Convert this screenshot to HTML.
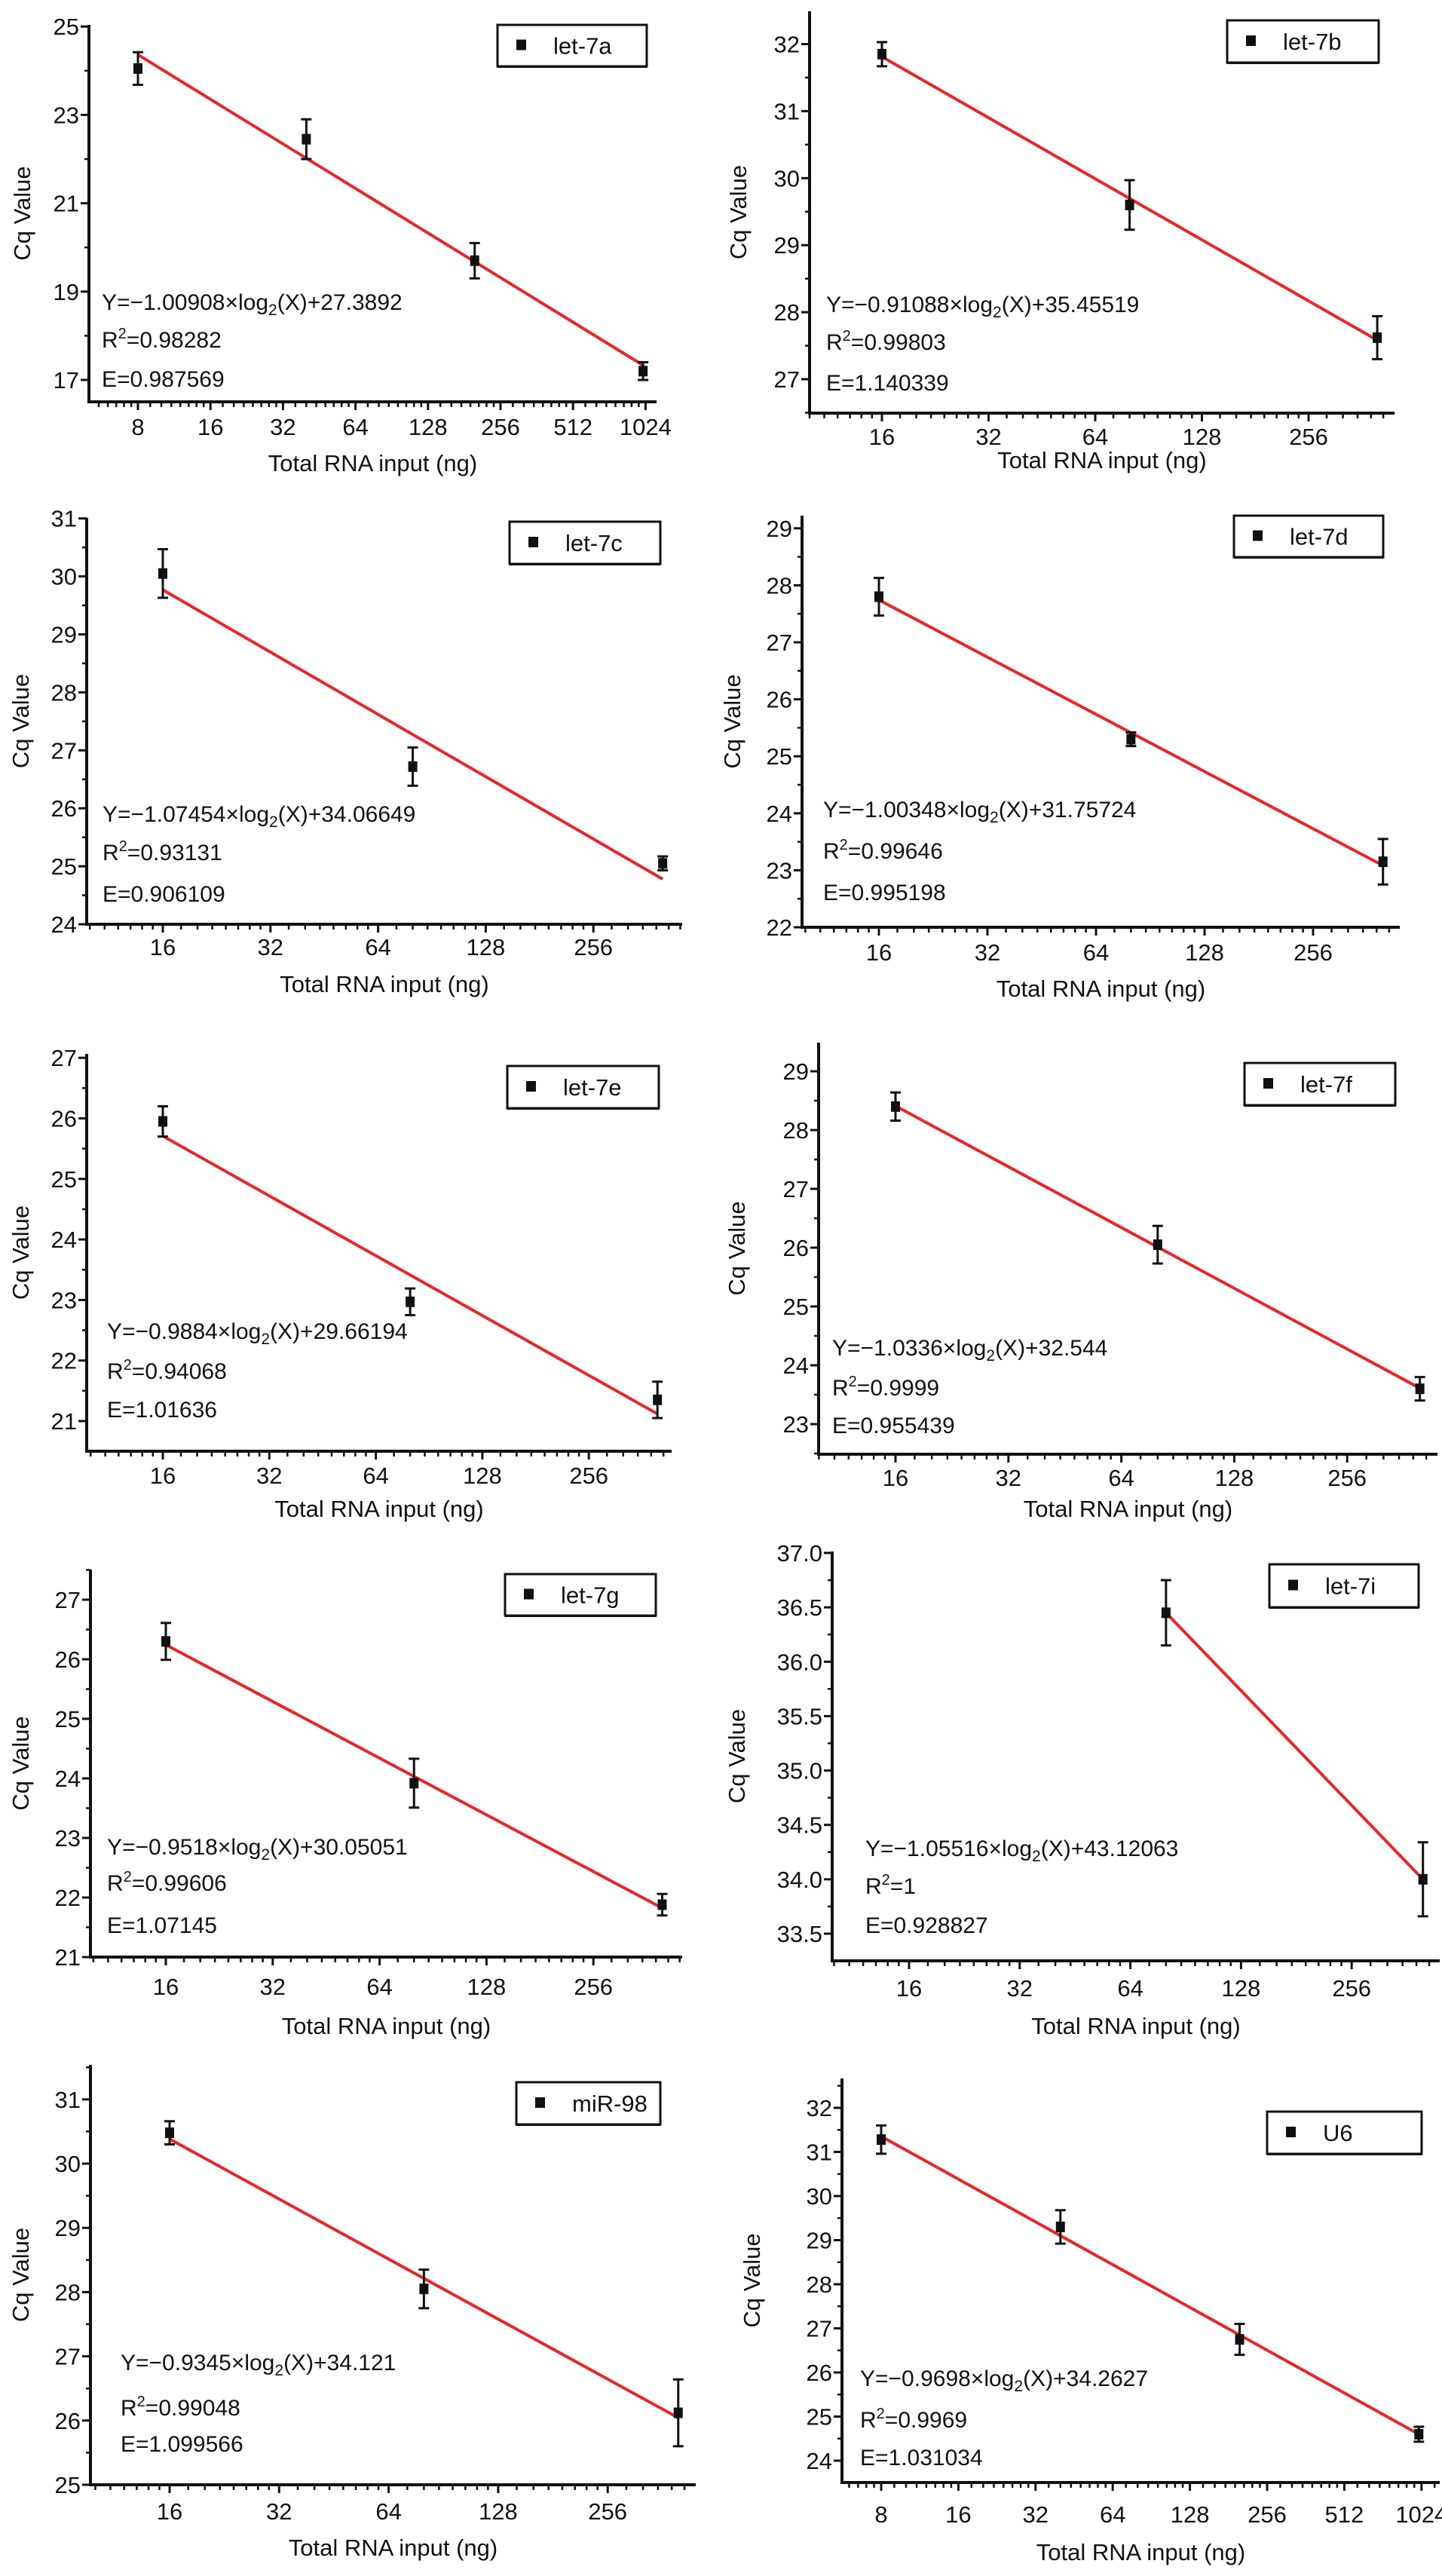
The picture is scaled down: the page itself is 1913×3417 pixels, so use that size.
<!DOCTYPE html>
<html><head><meta charset="utf-8"><style>
html,body{margin:0;padding:0;background:#fff;}
svg{display:block;font-family:"Liberation Sans",Arial,sans-serif;}
</style></head><body>
<svg id="fig" width="1913" height="3417" viewBox="0 0 1913 3417" xmlns="http://www.w3.org/2000/svg"></svg>
<script>
// ---- data ----
const names = ["let-7a","let-7b","let-7c","let-7d","let-7e","let-7f","let-7g","let-7i","miR-98","U6"];
const let7aX=[8,40,200,1000], let7aY=[24.05,22.45,19.7,17.2], let7aE=[0.37,0.45,0.4,0.2];
const let7bX=[16,80,400], let7bY=[31.85,29.6,27.62], let7bE=[0.18,0.37,0.32];
const let7cX=[16,80,400], let7cY=[30.05,26.72,25.05], let7cE=[0.42,0.33,0.12];
const let7dX=[16,80,400], let7dY=[27.8,25.3,23.15], let7dE=[0.33,0.12,0.4];
const let7eX=[16,80,400], let7eY=[25.95,22.97,21.35], let7eE=[0.25,0.22,0.3];
const let7fX=[16,80,400], let7fY=[28.4,26.05,23.6], let7fE=[0.24,0.32,0.2];
const let7gX=[16,80,400], let7gY=[26.3,23.92,21.88], let7gE=[0.31,0.41,0.18];
const let7iX=[80,400], let7iY=[36.45,34.0], let7iE=[0.3,0.34];
const mir98X=[16,80,400], mir98Y=[30.48,28.05,26.12], mir98E=[0.18,0.3,0.52];
const u6X=[8,40,200,1000], u6Y=[31.28,29.3,26.75,24.6], u6E=[0.32,0.38,0.35,0.17];
const slopes=[-1.00908,-0.91088,-1.07454,-1.00348,-0.9884,-1.0336,-0.9518,-1.05516,-0.9345,-0.9698];
const intercepts=[27.3892,35.45519,34.06649,31.75724,29.66194,32.544,30.05051,43.12063,34.121,34.2627];
const slopeText=["1.00908","0.91088","1.07454","1.00348","0.9884","1.0336","0.9518","1.05516","0.9345","0.9698"];
const interText=["27.3892","35.45519","34.06649","31.75724","29.66194","32.544","30.05051","43.12063","34.121","34.2627"];
const r2Text=["0.98282","0.99803","0.93131","0.99646","0.94068","0.9999","0.99606","1","0.99048","0.9969"];
const effText=["0.987569","1.140339","0.906109","0.995198","1.01636","0.955439","1.07145","0.928827","1.099566","1.031034"];
const yTicksA=[17,19,21,23,25], yTicksB=[27,28,29,30,31,32], yTicksC=[24,25,26,27,28,29,30,31];
const yTicksD=[22,23,24,25,26,27,28,29], yTicksE=[21,22,23,24,25,26,27], yTicksF=[23,24,25,26,27,28,29];
const yTicksG=[21,22,23,24,25,26,27], yTicksI=[33.5,34.0,34.5,35.0,35.5,36.0,36.5,37.0];
const yTicksM=[25,26,27,28,29,30,31], yTicksU=[24,25,26,27,28,29,30,31,32];
const xTicksWide=[8,16,32,64,128,256,512,1024], xTicksNarrow=[16,32,64,128,256];
const xs=[let7aX,let7bX,let7cX,let7dX,let7eX,let7fX,let7gX,let7iX,mir98X,u6X];
const ys=[let7aY,let7bY,let7cY,let7dY,let7eY,let7fY,let7gY,let7iY,mir98Y,u6Y];
const es=[let7aE,let7bE,let7cE,let7dE,let7eE,let7fE,let7gE,let7iE,mir98E,u6E];
const yTickSets=[yTicksA,yTicksB,yTicksC,yTicksD,yTicksE,yTicksF,yTicksG,yTicksI,yTicksM,yTicksU];
const xTickSets=[xTicksWide,xTicksNarrow,xTicksNarrow,xTicksNarrow,xTicksNarrow,xTicksNarrow,xTicksNarrow,xTicksNarrow,xTicksNarrow,xTicksWide];
const yMinor=[1,0.5,0.5,0.5,0.5,0.5,0.5,0.25,0.5,0.5];
const yDec=[0,0,0,0,0,0,0,1,0,0];

// ---- layout (pixels) ----
const L=[
 {ax:118,ay:533,top:33,yv:17,yp:504,yu:58.6,xv:8,xp:183,xd:96.2,end:871,lg:[660,33,198,55],eq:[135,411,461,513],tk:577,tt:625,yl:30},
 {ax:1074,ay:548,top:15,yv:27,yp:503,yu:88.9,xv:16,xp:1170,xd:141.5,end:1850,lg:[1628,27,201,56],eq:[1096,414,464,518],tk:590,tt:621,yl:980},
 {ax:115,ay:1226,top:687,yv:24,yp:1226,yu:76.9,xv:16,xp:216,xd:142.8,end:905,lg:[676,692,200,56],eq:[136,1090,1141,1196],tk:1267,tt:1316,yl:28},
 {ax:1064,ay:1230,top:684,yv:22,yp:1230,yu:75.6,xv:16,xp:1166,xd:144,end:1857,lg:[1637,684,198,55],eq:[1092,1084,1139,1194],tk:1274,tt:1322,yl:972},
 {ax:115,ay:1925,top:1398,yv:21,yp:1885,yu:80.3,xv:16,xp:216,xd:141.3,end:891,lg:[673,1414,201,56],eq:[142,1776,1829,1880],tk:1968,tt:2012,yl:28},
 {ax:1086,ay:1929,top:1383,yv:23,yp:1889,yu:78,xv:16,xp:1188,xd:149.8,end:1907,lg:[1651,1410,200,56],eq:[1104,1798,1851,1901],tk:1971,tt:2012,yl:978},
 {ax:120,ay:2596,top:2082,yv:21,yp:2596,yu:79,xv:16,xp:220,xd:141.8,end:905,lg:[670,2088,200,55],eq:[142,2460,2508,2564],tk:2646,tt:2698,yl:28},
 {ax:1104,ay:2601,top:2058,yv:33.5,yp:2565,yu:144.3,xv:16,xp:1206,xd:146.8,end:1910,lg:[1684,2075,198,57],eq:[1148,2462,2512,2564],tk:2648,tt:2698,yl:978},
 {ax:120,ay:3296,top:2739,yv:25,yp:3296,yu:85.2,xv:16,xp:225,xd:145.3,end:923,lg:[685,2762,191,56],eq:[160,3144,3204,3252],tk:3342,tt:3390,yl:28},
 {ax:1117,ay:3293,top:2757,yv:24,yp:3264,yu:58.5,xv:8,xp:1169,xd:102.4,end:1910,lg:[1681,2801,205,56],eq:[1141,3165,3220,3270],tk:3346,tt:3396,yl:998}
];

const NS="http://www.w3.org/2000/svg";
const svg=document.getElementById('fig');
function mk(tag,attrs,parent,txt){const e=document.createElementNS(NS,tag);for(const k in attrs)e.setAttribute(k,attrs[k]);if(txt!==undefined)e.textContent=txt;parent.appendChild(e);return e;}

for(let i=0;i<10;i++){
  const c=L[i];
  const X=v=>c.xp+Math.log2(v/c.xv)*c.xd;
  const Y=v=>c.yp-(v-c.yv)*c.yu;
  const g=mk('g',{},svg);
  
  
  const yBot=c.yv-(c.ay-c.yp)/c.yu, yTop=c.yv+(c.yp-c.top)/c.yu;
  for(let v=Math.ceil(yBot/yMinor[i])*yMinor[i]; v<=yTop+1e-9; v+=yMinor[i]){
    const t=mk('line',{x1:c.ax-6,x2:c.ax,y1:Y(v),y2:Y(v),stroke:'#111','stroke-width':2.5},g);
    
    
  }
  yTickSets[i].forEach(v=>{
    const t=mk('line',{x1:c.ax-11,x2:c.ax,y1:Y(v),y2:Y(v),stroke:'#111','stroke-width':3},g);
    
    
    const lb=mk('text',{x:c.ax-13,y:Y(v)+11,'text-anchor':'end','font-size':31,fill:'#111'},g,v.toFixed(yDec[i]));
    
    
  });
  const xLeft=c.xv*Math.pow(2,(c.ax-c.xp)/c.xd), xRight=c.xv*Math.pow(2,(c.end-c.xp)/c.xd);
  let base=c.xv; while(base>xLeft) base/=2;
  for(;base<xRight;base*=2){
    for(let k=1;k<8;k++){const v=base+k*base/8; if(v<=xLeft||v>=xRight)continue;
      const t=mk('line',{x1:X(v),x2:X(v),y1:c.ay,y2:c.ay+7,stroke:'#111','stroke-width':2.5},g);
      
      }
  }
  xTickSets[i].forEach(v=>{
    const t=mk('line',{x1:X(v),x2:X(v),y1:c.ay,y2:c.ay+11,stroke:'#111','stroke-width':3},g);
    
    
    const lb=mk('text',{x:X(v),y:c.tk,'text-anchor':'middle','font-size':31,fill:'#111'},g,String(v));
    
    
  });
  const ya=mk('line',{x1:c.ax,x2:c.ax,y1:c.top,y2:c.ay+2,stroke:'#111','stroke-width':4},g);
  
  
  const xa=mk('line',{x1:c.ax-2,x2:c.end,y1:c.ay,y2:c.ay,stroke:'#111','stroke-width':4},g);
  
  
  const xt=mk('text',{x:(c.ax+c.end)/2,y:c.tt,'text-anchor':'middle','font-size':31,fill:'#111'},g,'Total RNA input (ng)');
  
  
  const ymid=(c.top+c.ay)/2;
  const yt=mk('text',{x:c.yl,y:ymid,'text-anchor':'middle','font-size':31,fill:'#111',transform:`rotate(-90 ${c.yl} ${ymid}) translate(0 10)`},g,'Cq Value');
  
  
  const xd=xs[i], x0=Math.min(...xd), x1=Math.max(...xd);
  const fl=mk('line',{x1:X(x0),y1:Y(slopes[i]*Math.log2(x0)+intercepts[i]),x2:X(x1),y2:Y(slopes[i]*Math.log2(x1)+intercepts[i]),stroke:'#e8262a','stroke-width':4},g);
  
  
  xd.forEach((xv,j)=>{
    const px=X(xv), py=Y(ys[i][j]), lo=Y(ys[i][j]-es[i][j]), hi=Y(ys[i][j]+es[i][j]);
    const eb=mk('path',{d:`M${px},${hi}V${lo}M${px-7},${hi}H${px+7}M${px-7},${lo}H${px+7}`,stroke:'#111','stroke-width':3,fill:'none'},g);
    
    
    const pt=mk('rect',{x:px-6,y:py-7,width:12,height:14,fill:'#111'},g);
    
    
  });
  const e1=mk('text',{x:c.eq[0],y:c.eq[1],'font-size':30,fill:'#111'},g);
  
  
  mk('tspan',{},e1,'Y=\u2212'+slopeText[i]+'\u00d7log');
  mk('tspan',{dy:7,'font-size':21},e1,'2');
  mk('tspan',{dy:-7},e1,'(X)+'+interText[i]);
  const e2=mk('text',{x:c.eq[0],y:c.eq[2],'font-size':30,fill:'#111'},g);
  
  
  mk('tspan',{},e2,'R');
  mk('tspan',{dy:-12,'font-size':20},e2,'2');
  mk('tspan',{dy:12},e2,'='+r2Text[i]);
  const e3=mk('text',{x:c.eq[0],y:c.eq[3],'font-size':30,fill:'#111'},g,'E='+effText[i]);
  
  
  const lg=mk('g',{},g);
  
  
  const [lx,ly,lw,lh]=c.lg;
  mk('rect',{x:lx,y:ly,width:lw,height:lh,fill:'#fff',stroke:'#111','stroke-width':3},lg);
  mk('line',{x1:lx,x2:lx+lw,y1:ly+lh+1,y2:ly+lh+1,stroke:'#111','stroke-width':2},lg);
  const ls=mk('rect',{x:lx+25,y:ly+lh/2-8,width:13,height:14,fill:'#111'},lg);
  
  
  const lt=mk('text',{x:lx+74,y:ly+lh/2+11,'font-size':31,fill:'#111'},lg,names[i]);
  
  
}
</script>
</body></html>
